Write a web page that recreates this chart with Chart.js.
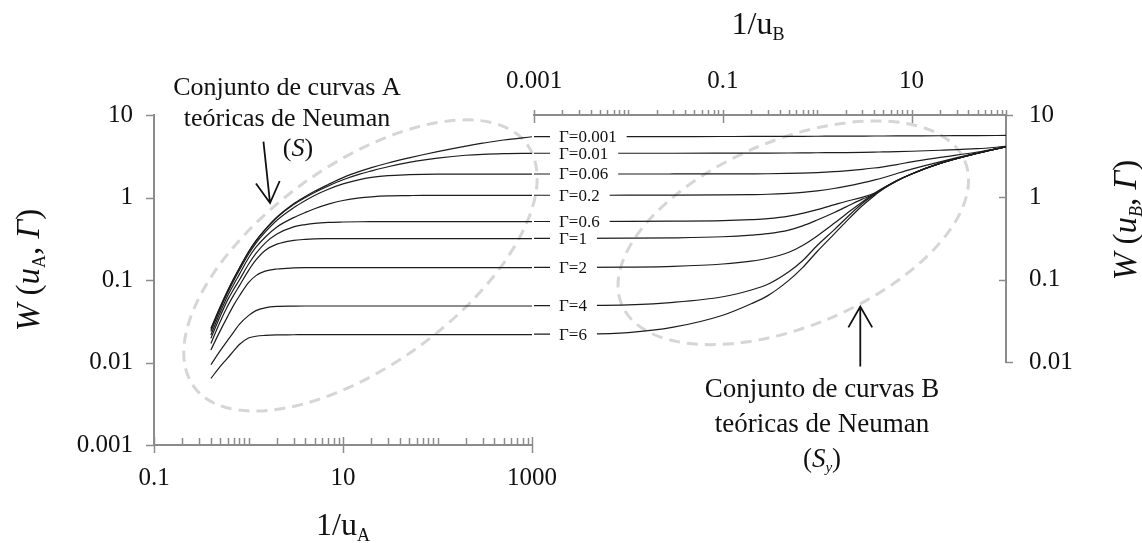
<!DOCTYPE html>
<html>
<head>
<meta charset="utf-8">
<title>Curvas teóricas de Neuman</title>
<script src="https://cdn.jsdelivr.net/npm/chart.js@4.4.1/dist/chart.umd.min.js"></script>
<style>
  html, body { margin: 0; padding: 0; background: #fff; }
  #wrap { position: relative; width: 1142px; height: 543px; overflow: hidden; }
  #wrap canvas { position: absolute; left: 0; top: 0; }
</style>
</head>
<body>
<div id="wrap">
  <canvas id="chartA" width="1142" height="543"></canvas>
  <canvas id="chartB" width="1142" height="543"></canvas>
</div>
<script>
// ---------------- data ----------------
const gammaLabels = ['Γ=0.001', 'Γ=0.01', 'Γ=0.06', 'Γ=0.2', 'Γ=0.6', 'Γ=1', 'Γ=2', 'Γ=4', 'Γ=6'];

// Type A curves: W(u_A, Γ) against 1/u_A
const invUA = [0.4, 0.5, 0.6, 0.7, 0.8, 1, 1.2, 1.5, 2, 3, 4, 5, 7, 10, 15, 20, 30, 50, 70, 100, 200, 300, 500, 1000];
const wA_0001 = [0.026, 0.047, 0.074, 0.105, 0.14, 0.22, 0.3, 0.41, 0.58, 0.84, 1.03, 1.19, 1.44, 1.74, 2.07, 2.3, 2.62, 3.02, 3.3, 3.6, 4.2, 4.55, 4.98, 5.45];
const wA_001  = [0.025, 0.046, 0.073, 0.104, 0.138, 0.217, 0.296, 0.405, 0.57, 0.82, 1.0, 1.15, 1.38, 1.64, 1.92, 2.1, 2.36, 2.66, 2.84, 3.0, 3.25, 3.34, 3.4, 3.43];
const wA_006  = [0.0237, 0.044, 0.070, 0.099, 0.131, 0.205, 0.28, 0.38, 0.53, 0.75, 0.92, 1.06, 1.26, 1.46, 1.65, 1.75, 1.84, 1.89, 1.91, 1.92, 1.92, 1.92, 1.92, 1.92];
const wA_02   = [0.0216, 0.040, 0.064, 0.089, 0.117, 0.185, 0.25, 0.33, 0.44, 0.57, 0.66, 0.73, 0.83, 0.92, 0.99, 1.02, 1.045, 1.055, 1.06, 1.06, 1.06, 1.06, 1.06, 1.06];
const wA_06   = [0.0196, 0.036, 0.057, 0.078, 0.10, 0.155, 0.21, 0.28, 0.36, 0.44, 0.47, 0.487, 0.5, 0.505, 0.508, 0.509, 0.509, 0.509, 0.509, 0.509, 0.509, 0.509, 0.509, 0.509];
const wA_1    = [0.017, 0.031, 0.048, 0.066, 0.085, 0.13, 0.175, 0.228, 0.272, 0.302, 0.311, 0.315, 0.317, 0.318, 0.318, 0.318, 0.318, 0.318, 0.318, 0.318, 0.318, 0.318, 0.318, 0.318];
const wA_2    = [0.0142, 0.024, 0.036, 0.05, 0.064, 0.093, 0.113, 0.128, 0.136, 0.14, 0.141, 0.141, 0.141, 0.141, 0.141, 0.141, 0.141, 0.141, 0.141, 0.141, 0.141, 0.141, 0.141, 0.141];
const wA_4    = [0.0094, 0.0138, 0.0185, 0.0235, 0.029, 0.037, 0.0425, 0.046, 0.0478, 0.0483, 0.0484, 0.0484, 0.0484, 0.0484, 0.0484, 0.0484, 0.0484, 0.0484, 0.0484, 0.0484, 0.0484, 0.0484, 0.0484, 0.0484];
const wA_6    = [0.0064, 0.0089, 0.0113, 0.0139, 0.0165, 0.0198, 0.0208, 0.0213, 0.0216, 0.0217, 0.0218, 0.0218, 0.0218, 0.0218, 0.0218, 0.0218, 0.0218, 0.0218, 0.0218, 0.0218, 0.0218, 0.0218, 0.0218, 0.0218];

// Type B curves: W(u_B, Γ) against 1/u_B
const invUB = [0.001, 0.003, 0.01, 0.03, 0.1, 0.2, 0.3, 0.5, 0.7, 1, 1.5, 2, 3, 4, 5, 7, 10, 20, 50, 100];
const wB_0001 = [5.45, 5.45, 5.46, 5.47, 5.48, 5.49, 5.49, 5.5, 5.51, 5.52, 5.53, 5.54, 5.55, 5.555, 5.56, 5.57, 5.58, 5.6, 5.62, 5.65];
const wB_001  = [3.43, 3.43, 3.43, 3.43, 3.435, 3.44, 3.445, 3.455, 3.465, 3.48, 3.49, 3.5, 3.52, 3.54, 3.56, 3.59, 3.63, 3.73, 3.9, 4.15];
const wB_006  = [1.92, 1.92, 1.92, 1.922, 1.925, 1.93, 1.935, 1.95, 1.97, 2.0, 2.05, 2.1, 2.19, 2.27, 2.35, 2.5, 2.7, 3.05, 3.55, 4.12];
const wB_02   = [1.06, 1.06, 1.061, 1.063, 1.07, 1.08, 1.09, 1.12, 1.15, 1.2, 1.28, 1.36, 1.5, 1.62, 1.73, 1.95, 2.2, 2.7, 3.46, 4.1];
const wB_06   = [0.509, 0.509, 0.51, 0.513, 0.52, 0.535, 0.55, 0.59, 0.64, 0.71, 0.81, 0.89, 1.0, 1.12, 1.3, 1.6, 1.92, 2.58, 3.43, 4.1];
const wB_1    = [0.318, 0.318, 0.319, 0.322, 0.332, 0.347, 0.362, 0.4, 0.45, 0.53, 0.65, 0.76, 0.95, 1.1, 1.29, 1.6, 1.92, 2.58, 3.43, 4.1];
const wB_2    = [0.141, 0.141, 0.142, 0.145, 0.155, 0.168, 0.182, 0.215, 0.26, 0.34, 0.48, 0.62, 0.88, 1.09, 1.28, 1.59, 1.92, 2.58, 3.43, 4.1];
const wB_4    = [0.0484, 0.0486, 0.0495, 0.053, 0.062, 0.075, 0.088, 0.125, 0.17, 0.26, 0.4, 0.55, 0.84, 1.07, 1.27, 1.59, 1.92, 2.58, 3.43, 4.1];
const wB_6    = [0.0218, 0.0219, 0.0228, 0.0265, 0.037, 0.051, 0.064, 0.098, 0.14, 0.22, 0.355, 0.5, 0.79, 1.04, 1.26, 1.58, 1.92, 2.58, 3.43, 4.1];

// Labelled tick values
const ticksUA = [0.1, 10, 1000];
const ticksUB = [0.001, 0.1, 10];
const ticksWA = [0.001, 0.01, 0.1, 1, 10];
const ticksWB = [0.01, 0.1, 1, 10];

// ---------------- styling ----------------
const SERIF = "'Liberation Serif', 'Times New Roman', 'DejaVu Serif', serif";
const AXIS = '#8c8c8c';
const INK = '#111111';
const CURVE = '#1c1c1c';
const HALO = '#d6d6d6';
Chart.defaults.font.family = SERIF;
Chart.defaults.color = INK;

const seriesA = [wA_0001, wA_001, wA_006, wA_02, wA_06, wA_1, wA_2, wA_4, wA_6];
const seriesB = [wB_0001, wB_001, wB_006, wB_02, wB_06, wB_1, wB_2, wB_4, wB_6];

function makeDatasets(xs, ys) {
  return ys.map((arr, i) => ({
    label: gammaLabels[i],
    data: xs.map((x, j) => ({ x: x, y: arr[j] })),
    showLine: true,
    pointRadius: 0,
    pointHoverRadius: 0,
    borderColor: CURVE,
    borderWidth: 1.2,
    fill: false,
    cubicInterpolationMode: 'monotone'
  }));
}

function sameValue(a, b) { return Math.abs(Math.log10(a) - Math.log10(b)) < 1e-6; }
function tickText(list) {
  return (v) => {
    const hit = list.find(t => sameValue(v, t));
    return hit === undefined ? null : String(hit);
  };
}

// ---------------- drawing helpers ----------------
function fontFor(p, size) {
  const s = p.sub ? Math.round(size * 0.56) : size;
  return (p.italic ? 'italic ' : '') + s + 'px ' + SERIF;
}
function richWidth(ctx, parts, size) {
  let w = 0;
  for (const p of parts) { ctx.font = fontFor(p, size); w += ctx.measureText(p.t).width; }
  return w;
}
function drawRich(ctx, parts, cx, baseline, size) {
  const w = richWidth(ctx, parts, size);
  let x = cx - w / 2;
  ctx.textAlign = 'left';
  ctx.textBaseline = 'alphabetic';
  ctx.fillStyle = INK;
  for (const p of parts) {
    ctx.font = fontFor(p, size);
    ctx.fillText(p.t, x, baseline + (p.sub ? size * 0.2 : 0));
    x += ctx.measureText(p.t).width;
  }
}
function drawRichVertical(ctx, parts, cx, cy, size) {
  ctx.save();
  ctx.translate(cx, cy);
  ctx.rotate(-Math.PI / 2);
  drawRich(ctx, parts, 0, size * 0.33, size);
  ctx.restore();
}
function drawEllipse(ctx, xs, ys, e) {
  const cx = xs.getPixelForValue(e.x), cy = ys.getPixelForValue(e.y);
  ctx.save();
  ctx.strokeStyle = HALO;
  ctx.lineWidth = 3;
  ctx.setLineDash([11, 7]);
  ctx.beginPath();
  ctx.ellipse(cx, cy, e.a, e.b, e.rot * Math.PI / 180, 0, Math.PI * 2);
  ctx.stroke();
  ctx.restore();
}
function drawArrow(ctx, xs, ys, from, to) {
  const x0 = xs.getPixelForValue(from.x), y0 = ys.getPixelForValue(from.y);
  const x1 = xs.getPixelForValue(to.x), y1 = ys.getPixelForValue(to.y);
  const ang = Math.atan2(y1 - y0, x1 - x0);
  const len = 24, spread = 0.52;
  ctx.save();
  ctx.strokeStyle = INK;
  ctx.lineWidth = 1.8;
  ctx.beginPath();
  ctx.moveTo(x0, y0); ctx.lineTo(x1, y1);
  ctx.moveTo(x1 - len * Math.cos(ang - spread), y1 - len * Math.sin(ang - spread));
  ctx.lineTo(x1, y1);
  ctx.lineTo(x1 - len * Math.cos(ang + spread), y1 - len * Math.sin(ang + spread));
  ctx.stroke();
  ctx.restore();
}
function logValues(min, max) {
  const out = [];
  for (let d = Math.floor(Math.log10(min)); d <= Math.ceil(Math.log10(max)); d++) {
    for (let m = 1; m <= 9; m++) {
      const v = +(m * Math.pow(10, d)).toPrecision(6);
      if (v >= min * (1 - 1e-9) && v <= max * (1 + 1e-9)) out.push(v);
    }
  }
  return out;
}
function line(ctx, x0, y0, x1, y1) {
  ctx.beginPath(); ctx.moveTo(x0, y0); ctx.lineTo(x1, y1); ctx.stroke();
}

// ---------------- annotations ----------------
const haloA = { x: 15.3, y: 0.15, a: 206, b: 100, rot: -36 };
const haloB = { x: 0.558, y: 0.371, a: 186, b: 93, rot: -22.7 };
const arrowA = { from: { x: 1.44, y: 4.75 }, to: { x: 1.69, y: 0.858 } };
const arrowB = { from: { x: 2.86, y: 0.0088 }, to: { x: 2.86, y: 0.0471 } };
const gammaLabelAt = 0.00184;

const noteA = [
  [{ t: 'Conjunto de curvas A' }],
  [{ t: 'teóricas de Neuman' }],
  [{ t: '(' }, { t: 'S', italic: true }, { t: ')' }]
];
const noteB = [
  [{ t: 'Conjunto de curvas B' }],
  [{ t: 'teóricas de Neuman' }],
  [{ t: '(' }, { t: 'S', italic: true }, { t: 'y', italic: true, sub: true }, { t: ')' }]
];

const decorA = {
  id: 'decorA',
  beforeDatasetsDraw(chart) {
    const { ctx, scales: { x, y } } = chart;
    drawEllipse(ctx, x, y, haloA);
  },
  afterDraw(chart) {
    const { ctx, chartArea: ca, scales: { x, y } } = chart;
    ctx.save();
    ctx.strokeStyle = AXIS;
    ctx.lineWidth = 1.5;
    // bottom axis: minor ticks inside, labelled ticks crossing
    for (const v of logValues(x.min, x.max)) {
      const px = Math.round(x.getPixelForValue(v)) + 0.5;
      if (ticksUA.some(t => sameValue(t, v))) line(ctx, px, ca.bottom - 8, px, ca.bottom + 8);
      else line(ctx, px, ca.bottom - 7, px, ca.bottom);
    }
    // left axis: decade ticks outside
    for (const v of ticksWA) {
      const py = Math.round(y.getPixelForValue(v)) + 0.5;
      line(ctx, ca.left - 8, py, ca.left, py);
    }
    ctx.restore();
    drawArrow(ctx, x, y, arrowA.from, arrowA.to);
    drawRich(ctx, noteA[0], 287, 95, 26);
    drawRich(ctx, noteA[1], 287, 126, 26);
    drawRich(ctx, noteA[2], 298, 156, 26);
    drawRich(ctx, [{ t: '1/u' }, { t: 'A', sub: true }], 343, 535, 32);
    drawRichVertical(ctx, [{ t: 'W', italic: true }, { t: ' (' }, { t: 'u', italic: true }, { t: 'A', sub: true },
      { t: ', ' }, { t: 'Γ', italic: true }, { t: ')' }], 28, 270, 33);
  }
};

const decorB = {
  id: 'decorB',
  beforeDatasetsDraw(chart) {
    const { ctx, scales: { x, y } } = chart;
    drawEllipse(ctx, x, y, haloB);
  },
  afterDatasetsDraw(chart) {
    const { ctx, scales: { x, y } } = chart;
    const left = x.getPixelForValue(gammaLabelAt);
    ctx.save();
    ctx.font = '17px ' + SERIF;
    ctx.textBaseline = 'middle';
    ctx.textAlign = 'left';
    seriesB.forEach((arr, i) => {
      const py = y.getPixelForValue(arr[0]);
      const w = ctx.measureText(gammaLabels[i]).width;
      ctx.fillStyle = '#fff';
      ctx.fillRect(left - 9, py - 7, w + 19, 14);
      ctx.fillStyle = INK;
      ctx.fillText(gammaLabels[i], left, py + 1);
    });
    ctx.restore();
  },
  afterDraw(chart) {
    const { ctx, chartArea: ca, scales: { x, y } } = chart;
    ctx.save();
    ctx.strokeStyle = AXIS;
    ctx.lineWidth = 1.5;
    // top axis: minor ticks outside, labelled ticks crossing
    for (const v of logValues(x.min, x.max)) {
      const px = Math.round(x.getPixelForValue(v)) + 0.5;
      if (ticksUB.some(t => sameValue(t, v))) line(ctx, px, ca.top - 5, px, ca.top + 8);
      else line(ctx, px, ca.top - 5, px, ca.top);
    }
    // right axis: decade ticks; the end ticks turn outward
    for (const v of ticksWB) {
      const py = Math.round(y.getPixelForValue(v)) + 0.5;
      const end = sameValue(v, y.min) || sameValue(v, y.max);
      if (end) line(ctx, ca.right, py, ca.right + 7, py);
      else line(ctx, ca.right - 7, py, ca.right, py);
    }
    ctx.restore();
    drawArrow(ctx, x, y, arrowB.from, arrowB.to);
    drawRich(ctx, noteB[0], 822, 397, 27);
    drawRich(ctx, noteB[1], 822, 432, 27);
    drawRich(ctx, noteB[2], 822, 467, 27);
    drawRich(ctx, [{ t: '1/u' }, { t: 'B', sub: true }], 758, 34, 32);
    drawRichVertical(ctx, [{ t: 'W', italic: true }, { t: ' (' }, { t: 'u', italic: true }, { t: 'B', italic: true, sub: true },
      { t: ', ' }, { t: 'Γ', italic: true }, { t: ')' }], 1125, 220, 33);
  }
};

function logScale(position, min, max, labels, padding, fit) {
  return {
    type: 'logarithmic',
    position: position,
    min: min,
    max: max,
    grid: { display: false, drawTicks: true, tickLength: 7 },
    border: { display: true, color: AXIS, width: 2 },
    ticks: {
      autoSkip: false, maxRotation: 0, minRotation: 0, padding: padding,
      font: { size: 25, family: SERIF }, color: INK,
      callback: tickText(labels)
    },
    afterFit: fit
  };
}

new Chart(document.getElementById('chartA'), {
  type: 'scatter',
  data: { datasets: makeDatasets(invUA, seriesA) },
  options: {
    responsive: false,
    animation: false,
    events: [],
    layout: { padding: { left: 0, top: 115, right: 610, bottom: 0 } },
    plugins: { legend: { display: false }, tooltip: { enabled: false } },
    scales: {
      x: logScale('bottom', 0.1, 1000, ticksUA, 11, s => { s.height = 98; }),
      y: logScale('left', 0.001, 10, ticksWA, 14, s => { s.width = 154; })
    }
  },
  plugins: [decorA]
});

new Chart(document.getElementById('chartB'), {
  type: 'scatter',
  data: { datasets: makeDatasets(invUB, seriesB) },
  options: {
    responsive: false,
    animation: false,
    events: [],
    layout: { padding: { left: 534, top: 0, right: 0, bottom: 181 } },
    plugins: { legend: { display: false }, tooltip: { enabled: false } },
    scales: {
      x: logScale('top', 0.001, 100, ticksUB, 12, s => { s.height = 115; }),
      y: logScale('right', 0.01, 10, ticksWB, 16, s => { s.width = 136; })
    }
  },
  plugins: [decorB]
});
</script>
</body>
</html>
